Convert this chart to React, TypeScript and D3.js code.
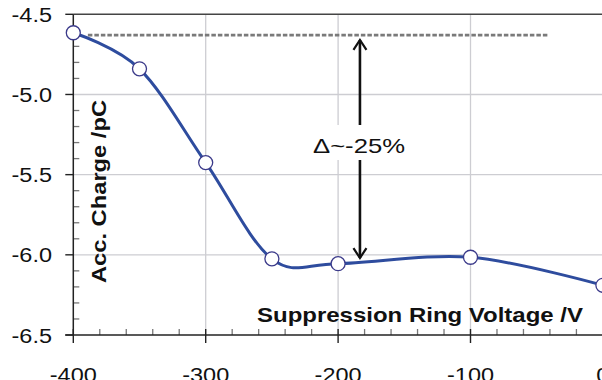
import * as d3 from "d3"

// data
const voltages = [-400, -350, -300, -250, -200, -100, 0]
const charges = [-4.615, -4.84, -5.425, -6.025, -6.055, -6.015, -6.19]

const xTicks = [-400, -300, -200, -100, 0]
const xTickLabels = ["-400", "-300", "-200", "-100", "0"]
const yTicks = [-4.5, -5.0, -5.5, -6.0, -6.5]
const yTickLabels = ["-4.5", "-5.0", "-5.5", "-6.0", "-6.5"]

const refLineX = [-389, -41]
const refLineY = -4.63
const arrowX = -183.5
const arrowFrom = -4.66
const arrowTo = -6.02
const deltaLabel = "Δ~-25%"

const W = 602
const H = 380
const FONT = "'Liberation Sans', Arial, Helvetica, sans-serif"

export default function App() {
    const x = d3.scaleLinear().domain([-400, 0]).range([73.3, 602.9])
    const y = d3.scaleLinear().domain([-4.5, -6.5]).range([14.3, 335])

    const line = d3
        .line<number>()
        .x((_, i) => x(voltages[i]))
        .y((d) => y(d))
        .curve(d3.curveCardinal.tension(0))

    const xMinor = d3.range(-400, 1, 20).filter((v) => v % 100 !== 0)
    const yMinor = d3.range(-4.6, -6.45, -0.1).filter((v) => Math.abs(v * 2 - Math.round(v * 2)) > 0.01)

    const ax = x(arrowX)
    const yTop = y(arrowFrom)
    const yBot = y(arrowTo)

    return (
        <svg width={W} height={H} viewBox={`0 0 ${W} ${H}`} style={{ position: "absolute", left: 0, top: 0, background: "#fff" }}>
            {/* grid */}
            {yTicks.slice(1, -1).map((t) => (
                <line key={"gy" + t} x1={x(-400)} x2={W} y1={y(t)} y2={y(t)} stroke="#cdcdd2" strokeWidth={1.3} />
            ))}
            {xTicks.slice(1, -1).map((t) => (
                <line key={"gx" + t} x1={x(t)} x2={x(t)} y1={y(-4.5)} y2={y(-6.5)} stroke="#cdcdd2" strokeWidth={1.3} />
            ))}

            {/* top border */}
            <line x1={x(-400)} x2={W} y1={y(-4.5)} y2={y(-4.5)} stroke="#444" strokeWidth={1.4} />

            {/* minor ticks */}
            {yMinor.map((t) => (
                <line key={"my" + t} x1={x(-400)} x2={x(-400) + 6} y1={y(t)} y2={y(t)} stroke="#777" strokeWidth={1.3} />
            ))}
            {xMinor.map((t) => (
                <line key={"mx" + t} x1={x(t)} x2={x(t)} y1={y(-6.5) - 6} y2={y(-6.5)} stroke="#777" strokeWidth={1.3} />
            ))}

            {/* axes */}
            <line x1={x(-400)} x2={x(-400)} y1={y(-4.5)} y2={y(-6.5)} stroke="#222" strokeWidth={1.5} />
            <line x1={x(-400) - 8} x2={W} y1={y(-6.5)} y2={y(-6.5)} stroke="#222" strokeWidth={1.5} />
            {yTicks.map((t) => (
                <line key={"ty" + t} x1={x(-400) - 8} x2={x(-400)} y1={y(t)} y2={y(t)} stroke="#222" strokeWidth={1.4} />
            ))}
            {xTicks.map((t) => (
                <line key={"tx" + t} x1={x(t)} x2={x(t)} y1={y(-6.5) - 6} y2={y(-6.5) + 8} stroke="#222" strokeWidth={1.4} />
            ))}

            {/* tick labels */}
            {yTicks.map((t, i) => (
                <text key={"ly" + t} transform={`translate(52,${y(t) + 7.5}) scale(1.12,1)`} textAnchor="end" fontFamily={FONT} fontSize={21} fill="#111">
                    {yTickLabels[i]}
                </text>
            ))}
            {xTicks.map((t, i) => (
                <text key={"lx" + t} transform={`translate(${x(t)},382) scale(1.12,1)`} textAnchor="middle" fontFamily={FONT} fontSize={21} fill="#111">
                    {xTickLabels[i]}
                </text>
            ))}

            {/* axis titles */}
            <text x={257} y={322} textLength={326} lengthAdjust="spacingAndGlyphs" fontFamily={FONT} fontSize={21} fontWeight="bold" fill="#111">
                Suppression Ring Voltage /V
            </text>
            <text transform="translate(106,283) rotate(-90)" textLength={183} lengthAdjust="spacingAndGlyphs" fontFamily={FONT} fontSize={21} fontWeight="bold" fill="#111">
                Acc. Charge /pC
            </text>

            {/* reference dashed line */}
            <line x1={x(refLineX[0])} x2={x(refLineX[1])} y1={y(refLineY)} y2={y(refLineY)} stroke="#7a7a7a" strokeWidth={2.8} strokeDasharray="4.5,2" />

            {/* arrow */}
            <line x1={ax} x2={ax} y1={yTop} y2={yBot} stroke="#111" strokeWidth={2.6} />
            <path d={`M${ax - 6.5},${yTop + 10} L${ax},${yTop} L${ax + 6.5},${yTop + 10}`} fill="none" stroke="#111" strokeWidth={2.2} />
            <path d={`M${ax - 6.5},${yBot - 10} L${ax},${yBot} L${ax + 6.5},${yBot - 10}`} fill="none" stroke="#111" strokeWidth={2.2} />
            <rect x={311} y={125} width={96} height={35} fill="#fff" />
            <text x={313} y={153} textLength={92} lengthAdjust="spacingAndGlyphs" fontFamily={FONT} fontSize={21} fill="#111">
                {deltaLabel}
            </text>

            {/* data */}
            <path d={line(charges) ?? ""} fill="none" stroke="#2e4c9e" strokeWidth={3} />
            {charges.map((c, i) => (
                <circle key={"p" + i} cx={x(voltages[i])} cy={y(c)} r={7} fill="#fff" stroke="#3b3a8a" strokeWidth={1.3} />
            ))}
        </svg>
    )
}
